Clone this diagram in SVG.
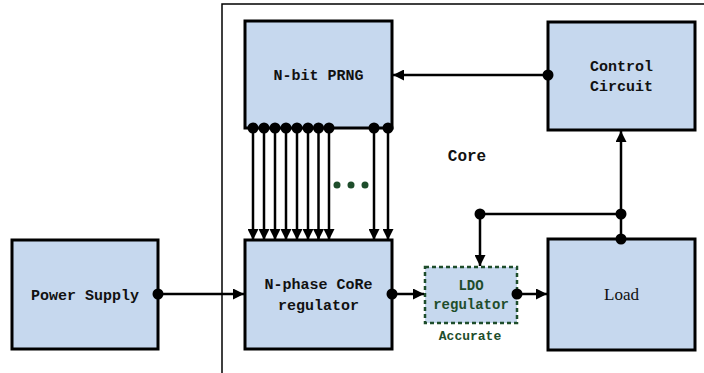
<svg xmlns="http://www.w3.org/2000/svg" width="704" height="373" viewBox="0 0 704 373">
<style>
.box{fill:#c6d8ee;stroke:#000;stroke-width:3}
.lbl{font-family:"Liberation Mono","DejaVu Sans Mono",monospace;font-size:15px;font-weight:bold;fill:#111;text-anchor:middle}
.ln{stroke:#000;stroke-width:2.5;fill:none}
.g{fill:#1e4d2b}
</style>
<defs>
<marker id="ah" viewBox="0 0 10 10" refX="10" refY="5" markerWidth="11" markerHeight="11" markerUnits="userSpaceOnUse" orient="auto">
<path d="M0,0 L10,5 L0,10 z" fill="#000"/>
</marker>
</defs>
<rect width="704" height="373" fill="#fff"/>
<g id="core">
<path d="M222,373 V4 H704" fill="none" stroke="#000" stroke-width="1.5"/>
<text x="467" y="161" class="lbl" style="font-size:16px">Core</text>
</g>
<g id="prng">
<rect class="box" x="245" y="21" width="147" height="107"/>
<text x="318.5" y="80" class="lbl">N-bit PRNG</text>
</g>
<g id="control">
<rect class="box" x="548" y="22" width="147" height="108"/>
<text x="621.5" y="71" class="lbl">Control</text>
<text x="621.5" y="91" class="lbl">Circuit</text>
</g>
<g id="power">
<rect class="box" x="12" y="240" width="146" height="109"/>
<text x="85" y="300" class="lbl">Power Supply</text>
</g>
<g id="coreg">
<rect class="box" x="245" y="240" width="147" height="109"/>
<text x="318.5" y="289" class="lbl">N-phase CoRe</text>
<text x="318.5" y="310" class="lbl">regulator</text>
</g>
<g id="ldo">
<rect x="425" y="267" width="92" height="56" fill="#c6d8ee" stroke="#1e4d2b" stroke-width="2.5" stroke-dasharray="4,3"/>
<text x="471" y="290" class="lbl" style="fill:#1e4d2b;font-size:14px">LDO</text>
<text x="471" y="309" class="lbl" style="fill:#1e4d2b;font-size:14px">regulator</text>
<text x="470" y="340" class="lbl" style="fill:#1e4d2b;font-size:13px">Accurate</text>
</g>
<g id="load">
<rect class="box" x="548" y="239" width="147" height="111"/>
<text x="621.5" y="300" text-anchor="middle" font-family="Liberation Serif,serif" font-size="17" fill="#111">Load</text>
</g>
<g id="connectors">
<line class="ln" x1="548" y1="75" x2="393" y2="75" marker-end="url(#ah)"/>
<circle cx="548" cy="75" r="5.5"/>
<line class="ln" x1="621" y1="239" x2="621" y2="131" marker-end="url(#ah)"/>
<circle cx="621" cy="239" r="5.5"/>
<circle cx="621" cy="214" r="5.5"/>
<line class="ln" x1="480" y1="214" x2="621" y2="214"/>
<line class="ln" x1="480" y1="214" x2="480" y2="266" marker-end="url(#ah)"/>
<circle cx="480" cy="214" r="5.5"/>
<line class="ln" x1="158" y1="294" x2="244" y2="294" marker-end="url(#ah)"/>
<circle cx="158" cy="294" r="5.5"/>
<line class="ln" x1="392" y1="294" x2="424" y2="294" marker-end="url(#ah)"/>
<circle cx="392" cy="294" r="5.5"/>
<line class="ln" x1="517" y1="294" x2="547" y2="294" marker-end="url(#ah)"/>
<circle cx="517" cy="294" r="5.5"/>
<g>
<line class="ln" x1="253" y1="128" x2="253" y2="240" marker-end="url(#ah)"/>
<line class="ln" x1="264" y1="128" x2="264" y2="240" marker-end="url(#ah)"/>
<line class="ln" x1="275" y1="128" x2="275" y2="240" marker-end="url(#ah)"/>
<line class="ln" x1="286" y1="128" x2="286" y2="240" marker-end="url(#ah)"/>
<line class="ln" x1="297" y1="128" x2="297" y2="240" marker-end="url(#ah)"/>
<line class="ln" x1="308" y1="128" x2="308" y2="240" marker-end="url(#ah)"/>
<line class="ln" x1="318.5" y1="128" x2="318.5" y2="240" marker-end="url(#ah)"/>
<line class="ln" x1="329" y1="128" x2="329" y2="240" marker-end="url(#ah)"/>
<line class="ln" x1="374" y1="128" x2="374" y2="240" marker-end="url(#ah)"/>
<line class="ln" x1="388" y1="128" x2="388" y2="240" marker-end="url(#ah)"/>
<circle cx="253" cy="128" r="5.5"/>
<circle cx="264" cy="128" r="5.5"/>
<circle cx="275" cy="128" r="5.5"/>
<circle cx="286" cy="128" r="5.5"/>
<circle cx="297" cy="128" r="5.5"/>
<circle cx="308" cy="128" r="5.5"/>
<circle cx="318.5" cy="128" r="5.5"/>
<circle cx="329" cy="128" r="5.5"/>
<circle cx="374" cy="128" r="5.5"/>
<circle cx="388" cy="128" r="5.5"/>
</g>
<circle class="g" cx="337" cy="185" r="3.5"/>
<circle class="g" cx="351" cy="185" r="3.5"/>
<circle class="g" cx="365" cy="185" r="3.5"/>
</g>
</svg>
